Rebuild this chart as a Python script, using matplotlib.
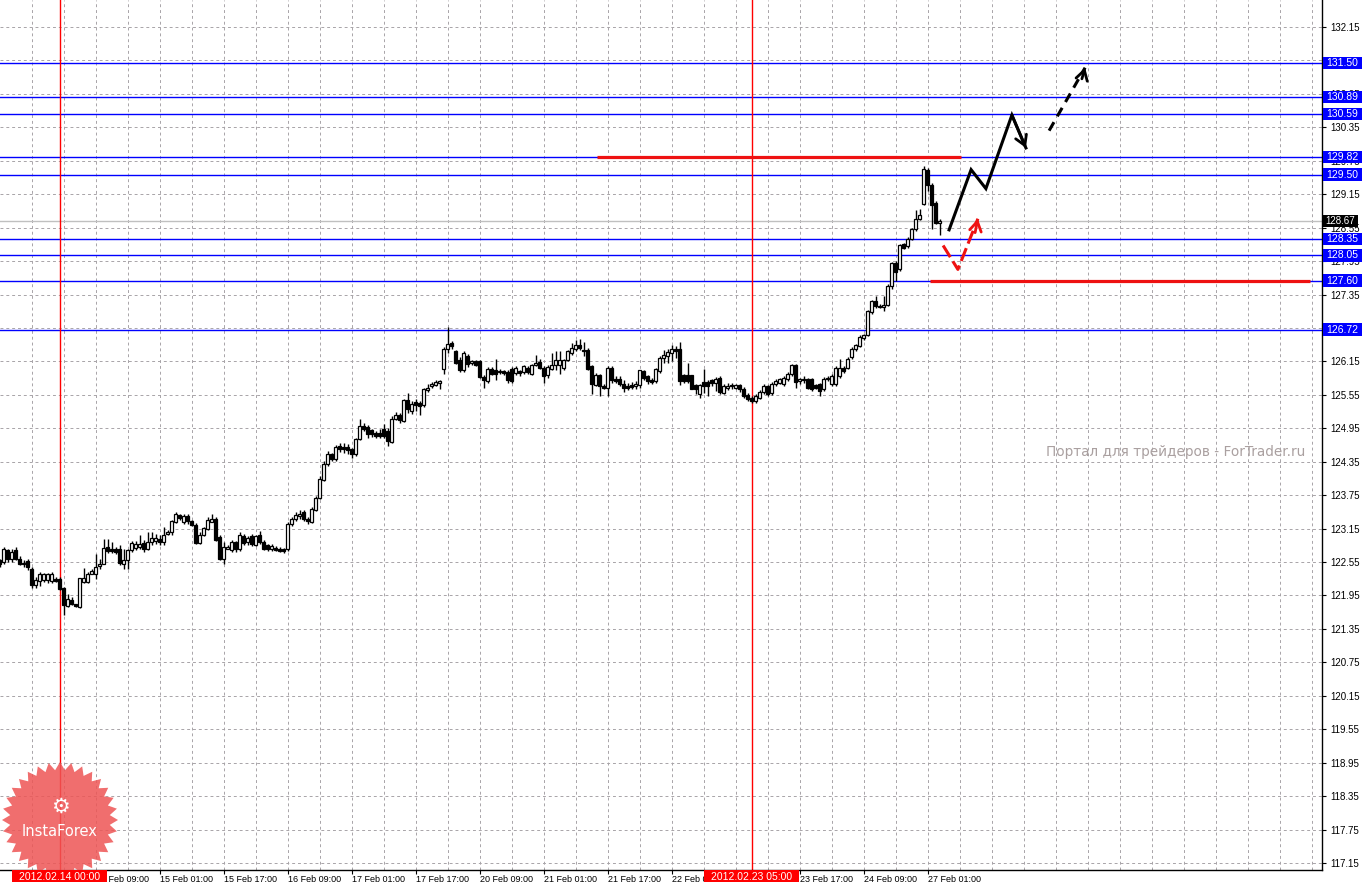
import matplotlib
matplotlib.use("Agg")
import matplotlib.pyplot as plt
import matplotlib.transforms as mtransforms
from matplotlib.patches import Rectangle, Polygon
import numpy as np

# ---- H1 candles, 13 Feb 09:00 .. 27 Feb 04:00 (bar index 0..235) ----
opens = [
    122.58, 122.55, 122.76, 122.61, 122.76, 122.61, 122.53, 122.56, 122.43, 122.13,
    122.21, 122.22, 122.22, 122.21, 122.25, 122.25, 122.09, 121.76, 121.87, 121.79,
    121.75, 122.19, 122.19, 122.34, 122.34, 122.48, 122.52, 122.82, 122.78, 122.78,
    122.79, 122.52, 122.58, 122.76, 122.80, 122.82, 122.90, 122.78, 122.91, 122.92,
    122.97, 122.91, 123.06, 123.08, 123.27, 123.39, 123.27, 123.38, 123.28, 123.22,
    122.90, 123.04, 123.14, 123.27, 123.33, 123.00, 122.61, 122.79, 122.76, 122.91,
    122.78, 123.02, 122.91, 123.01, 122.86, 123.03, 122.91, 122.85, 122.78, 122.80,
    122.79, 122.78, 122.78, 123.23, 123.32, 123.37, 123.44, 123.33, 123.27, 123.48,
    123.70, 124.02, 124.30, 124.48, 124.39, 124.63, 124.61, 124.61, 124.57, 124.48,
    124.76, 124.99, 124.98, 124.91, 124.87, 124.87, 124.93, 124.90, 124.71, 125.12,
    125.18, 125.08, 125.45, 125.26, 125.42, 125.41, 125.36, 125.64, 125.71, 125.73,
    125.76, 126.01, 126.37, 126.48, 126.33, 126.18, 125.99, 126.25, 126.12, 126.15,
    126.15, 125.87, 125.79, 126.02, 125.99, 125.96, 125.97, 125.96, 126.02, 125.94,
    125.97, 125.96, 126.03, 125.93, 126.09, 126.14, 126.03, 125.90, 126.02, 126.09,
    126.08, 126.03, 126.18, 126.30, 126.37, 126.45, 126.36, 126.36, 126.06, 125.72,
    125.90, 125.71, 125.68, 126.03, 125.84, 125.84, 125.74, 125.70, 125.72, 125.71,
    125.72, 125.97, 125.88, 125.82, 125.79, 125.97, 126.21, 126.25, 126.30, 126.37,
    126.37, 125.90, 125.90, 125.90, 125.72, 125.56, 125.78, 125.78, 125.81, 125.76,
    125.86, 125.59, 125.68, 125.72, 125.68, 125.72, 125.66, 125.55, 125.50, 125.44,
    125.50, 125.60, 125.70, 125.58, 125.74, 125.77, 125.74, 125.84, 125.92, 126.08,
    125.80, 125.83, 125.83, 125.83, 125.72, 125.74, 125.65, 125.83, 125.74, 125.74,
    125.89, 126.04, 126.04, 126.22, 126.37, 126.43, 126.57, 126.62, 127.03, 127.23,
    127.15, 127.13, 127.17, 127.50, 127.92, 127.81, 128.25, 128.22, 128.35, 128.52,
    128.71, 128.98, 129.59, 129.32, 128.99, 128.64,
]
closes = [
    122.52, 122.79, 122.61, 122.73, 122.61, 122.52, 122.51, 122.46, 122.13, 122.22,
    122.34, 122.33, 122.33, 122.34, 122.21, 122.07, 121.78, 121.88, 121.79, 121.76,
    122.26, 122.26, 122.34, 122.38, 122.46, 122.52, 122.80, 122.74, 122.74, 122.73,
    122.54, 122.58, 122.76, 122.89, 122.88, 122.88, 122.79, 122.91, 122.98, 122.98,
    122.91, 123.03, 123.09, 123.28, 123.42, 123.34, 123.38, 123.28, 123.22, 122.89,
    123.04, 123.16, 123.30, 123.33, 122.94, 122.61, 122.82, 122.82, 122.91, 122.78,
    123.03, 122.89, 122.98, 122.87, 123.01, 122.91, 122.79, 122.78, 122.84, 122.77,
    122.75, 122.75, 123.24, 123.32, 123.39, 123.42, 123.32, 123.28, 123.51, 123.70,
    124.04, 124.30, 124.48, 124.39, 124.62, 124.58, 124.57, 124.56, 124.48, 124.75,
    124.99, 124.94, 124.84, 124.84, 124.81, 124.81, 124.81, 124.72, 125.11, 125.18,
    125.10, 125.45, 125.29, 125.39, 125.36, 125.35, 125.65, 125.68, 125.75, 125.78,
    125.79, 126.37, 126.47, 126.43, 126.12, 126.00, 126.30, 126.11, 126.15, 126.09,
    125.87, 125.82, 126.02, 125.93, 125.93, 125.98, 125.94, 125.82, 125.79, 126.03,
    125.94, 126.06, 125.96, 126.08, 126.12, 126.03, 125.88, 126.05, 126.09, 126.18,
    126.17, 126.17, 126.33, 126.39, 126.45, 126.39, 126.33, 126.02, 125.74, 125.90,
    125.71, 125.68, 126.03, 125.82, 125.80, 125.74, 125.68, 125.68, 125.69, 125.75,
    125.99, 125.85, 125.79, 125.78, 126.02, 126.21, 126.27, 126.31, 126.37, 126.33,
    125.79, 125.79, 125.79, 125.66, 125.65, 125.72, 125.71, 125.71, 125.76, 125.84,
    125.60, 125.71, 125.71, 125.70, 125.72, 125.65, 125.52, 125.47, 125.44, 125.53,
    125.60, 125.71, 125.56, 125.75, 125.80, 125.83, 125.86, 125.92, 126.08, 125.78,
    125.83, 125.82, 125.68, 125.65, 125.68, 125.62, 125.84, 125.86, 125.89, 126.04,
    126.04, 125.98, 126.20, 126.37, 126.44, 126.59, 126.62, 127.05, 127.23, 127.14,
    127.13, 127.17, 127.50, 127.91, 127.75, 128.23, 128.19, 128.35, 128.52, 128.71,
    128.77, 129.60, 129.32, 128.96, 128.64, 128.67,
]
highs = [
    122.61, 122.82, 122.79, 122.78, 122.82, 122.66, 122.58, 122.61, 122.46, 122.28,
    122.37, 122.36, 122.36, 122.37, 122.28, 122.28, 122.10, 121.98, 121.92, 121.80,
    122.27, 122.45, 122.37, 122.43, 122.70, 122.61, 122.97, 122.97, 122.91, 122.82,
    122.85, 122.79, 122.79, 122.92, 122.92, 123.03, 122.94, 123.09, 123.09, 123.05,
    123.03, 123.18, 123.12, 123.30, 123.45, 123.42, 123.42, 123.42, 123.30, 123.25,
    123.09, 123.18, 123.36, 123.42, 123.36, 123.03, 122.91, 122.85, 122.94, 122.92,
    123.08, 123.05, 123.02, 123.05, 123.03, 123.10, 122.95, 122.87, 122.87, 122.84,
    122.82, 122.80, 123.26, 123.36, 123.45, 123.48, 123.48, 123.36, 123.53, 123.73,
    124.10, 124.36, 124.55, 124.51, 124.65, 124.69, 124.69, 124.66, 124.60, 124.78,
    125.11, 125.05, 125.00, 124.94, 124.90, 124.93, 125.02, 124.96, 125.17, 125.24,
    125.23, 125.47, 125.59, 125.44, 125.47, 125.44, 125.67, 125.74, 125.78, 125.82,
    125.82, 126.40, 126.77, 126.52, 126.36, 126.22, 126.33, 126.28, 126.18, 126.17,
    126.18, 125.90, 126.05, 126.05, 126.20, 126.02, 126.00, 126.00, 126.05, 126.06,
    126.00, 126.09, 126.06, 126.11, 126.27, 126.20, 126.06, 126.08, 126.30, 126.33,
    126.33, 126.20, 126.36, 126.48, 126.54, 126.55, 126.49, 126.39, 126.09, 125.94,
    125.93, 125.74, 126.06, 126.06, 125.88, 125.88, 125.82, 125.76, 125.78, 125.79,
    126.00, 125.99, 125.91, 125.85, 126.03, 126.24, 126.36, 126.37, 126.45, 126.42,
    126.49, 125.92, 126.12, 125.91, 125.74, 125.74, 126.02, 125.82, 125.84, 125.87,
    125.88, 125.74, 125.76, 125.76, 125.75, 125.75, 125.69, 125.58, 125.53, 125.56,
    125.63, 125.74, 125.73, 125.78, 125.84, 125.86, 125.89, 125.96, 126.11, 126.10,
    125.86, 125.88, 125.86, 125.86, 125.75, 125.77, 125.87, 125.89, 125.92, 126.06,
    126.19, 126.07, 126.23, 126.40, 126.47, 126.62, 126.65, 127.08, 127.26, 127.33,
    127.18, 127.33, 127.53, 127.94, 127.95, 128.26, 128.28, 128.38, 128.55, 128.87,
    128.89, 129.66, 129.62, 129.35, 129.02, 128.71,
]
lows = [
    122.46, 122.52, 122.55, 122.55, 122.58, 122.49, 122.46, 122.40, 122.08, 122.08,
    122.12, 122.19, 122.18, 122.18, 122.19, 122.05, 121.60, 121.74, 121.77, 121.75,
    121.72, 122.18, 122.17, 122.33, 122.25, 122.43, 122.52, 122.72, 122.72, 122.70,
    122.49, 122.42, 122.42, 122.73, 122.76, 122.79, 122.73, 122.76, 122.85, 122.88,
    122.85, 122.85, 123.03, 123.03, 123.25, 123.30, 123.24, 123.24, 123.20, 122.87,
    122.88, 123.02, 123.12, 123.26, 122.92, 122.58, 122.52, 122.78, 122.73, 122.73,
    122.74, 122.86, 122.86, 122.84, 122.83, 122.88, 122.76, 122.74, 122.75, 122.74,
    122.73, 122.72, 122.75, 123.20, 123.28, 123.32, 123.28, 123.24, 123.25, 123.46,
    123.68, 124.00, 124.27, 124.36, 124.36, 124.52, 124.50, 124.48, 124.42, 124.45,
    124.74, 124.90, 124.78, 124.80, 124.78, 124.78, 124.78, 124.63, 124.69, 125.10,
    125.05, 125.06, 125.23, 125.20, 125.26, 125.18, 125.34, 125.60, 125.68, 125.71,
    125.65, 125.92, 126.30, 126.38, 126.10, 125.96, 125.96, 126.05, 126.08, 126.06,
    125.85, 125.68, 125.76, 125.90, 125.82, 125.92, 125.90, 125.76, 125.76, 125.90,
    125.88, 125.93, 125.93, 125.90, 126.06, 126.02, 125.76, 125.85, 125.99, 126.00,
    125.93, 126.00, 126.15, 126.27, 126.33, 126.36, 126.25, 126.00, 125.56, 125.70,
    125.53, 125.65, 125.53, 125.76, 125.76, 125.71, 125.60, 125.63, 125.65, 125.65,
    125.68, 125.82, 125.74, 125.74, 125.76, 125.94, 126.12, 126.12, 126.15, 126.21,
    125.73, 125.76, 125.76, 125.65, 125.56, 125.50, 125.59, 125.53, 125.71, 125.62,
    125.57, 125.56, 125.63, 125.66, 125.65, 125.60, 125.49, 125.44, 125.40, 125.40,
    125.47, 125.57, 125.53, 125.55, 125.70, 125.74, 125.71, 125.80, 125.89, 125.68,
    125.74, 125.77, 125.65, 125.62, 125.65, 125.52, 125.62, 125.80, 125.71, 125.71,
    125.86, 125.95, 126.01, 126.19, 126.33, 126.40, 126.54, 126.60, 127.00, 127.11,
    127.10, 127.05, 127.14, 127.45, 127.60, 127.78, 128.16, 128.19, 128.32, 128.49,
    128.69, 128.96, 129.20, 128.53, 128.61, 128.41,
]

# time axis labels (bar index of each label); the ones at bars 8 and 184
# sit completely under the red labels of the vertical lines
time_ticks = [-8, 8, 24, 40, 56, 72, 88, 104, 120, 136, 152, 168, 184, 200, 216, 232]
time_labels = ["13 Feb 01:00", "", "14 Feb 09:00", "15 Feb 01:00",
               "15 Feb 17:00", "16 Feb 09:00", "17 Feb 01:00", "17 Feb 17:00",
               "20 Feb 09:00", "21 Feb 01:00", "21 Feb 17:00", "22 Feb 09:00",
               "", "23 Feb 17:00", "24 Feb 09:00", "27 Feb 01:00"]

price_ticks = [132.15, 131.55, 130.95, 130.35, 129.75, 129.15, 128.55, 127.95,
               127.35, 126.75, 126.15, 125.55, 124.95, 124.35, 123.75, 123.15,
               122.55, 121.95, 121.35, 120.75, 120.15, 119.55, 118.95, 118.35,
               117.75, 117.15]
# scale labels that sit fully under a level box
hidden_ticks = [131.55, 126.75]

levels = [131.50, 130.89, 130.59, 129.82, 129.50, 128.35, 128.05, 127.60, 126.72]
current_price = 128.67

vline_bars = [15, 188]
vline_labels = ["2012.02.14 00:00", "2012.02.23 05:00"]

# red target lines: (price, start bar, end bar)
red_lines = [(129.82, 149.4, 240.4), (127.60, 232.6, 327.6)]

# forecast paths (bar, price)
black_path_x = [237.4, 242.9, 246.6, 253.1, 256.6]
black_path_y = [128.51, 129.59, 129.25, 130.57, 129.98]
black_dash_x = [262.4, 271.4]
black_dash_y = [130.29, 131.42]
red_path_x = [235.9, 239.6, 244.6]
red_path_y = [128.23, 127.80, 128.71]

FONT = "Liberation Sans"
W, H = 1365, 882
AX_R, AX_B = 1322, 870

fig = plt.figure(figsize=(W / 100, H / 100), dpi=100)
fig.patch.set_facecolor("white")
ax = fig.add_axes([0, (H - AX_B) / H, AX_R / W, AX_B / H])
ov = fig.add_axes([0, 0, 1, 1], zorder=5)
ov.set_xlim(0, W)
ov.set_ylim(H, 0)
ov.axis("off")
ov.patch.set_alpha(0)

p_per_px = 1 / 55.73

# grid
grid_kw = dict(color="#a8a4a8", lw=0.7, linestyle=(0, (3, 3)), zorder=0)
for gx in range(8, 331, 8):
    ax.axvline(gx, **grid_kw)
for gy in price_ticks:
    ax.axhline(gy, **grid_kw)

# watermark
ov.text(1305, 452, "Портал для трейдеров - ForTrader.ru", ha="right", va="center",
        fontsize=9.8, color="#aaa0a0", family="DejaVu Sans", zorder=0)

# candles
idx = np.arange(len(closes))
o = np.array(opens)
c = np.array(closes)
ax.vlines(idx, lows, highs, color="black", lw=1.0, zorder=3)
body_col = ["white" if cc >= oo else "black" for oo, cc in zip(o, c)]
ax.bar(idx, np.abs(c - o), bottom=np.minimum(o, c), width=0.55, color=body_col,
       edgecolor="black", linewidth=0.9, zorder=4)

# horizontal levels
ax.axhline(current_price, color="#c0c0c0", lw=1, zorder=2)
for lv in levels:
    ax.axhline(lv, color="#0000ff", lw=1, zorder=2)
for pr, x0, x1 in red_lines:
    ax.plot([x0, x1], [pr, pr], color="#ee1111", lw=2.3, solid_capstyle="butt", zorder=5)

# vertical lines
for vb in vline_bars:
    ax.axvline(vb, color="#ff0000", lw=1, zorder=2)

# forecast arrows
ax.plot(black_path_x, black_path_y, color="black", lw=2.2,
        solid_joinstyle="miter", zorder=6)
ax.annotate("", xy=(black_path_x[-1], black_path_y[-1]),
            xytext=(black_path_x[-2], black_path_y[-2]),
            arrowprops=dict(arrowstyle="->,head_length=0.5,head_width=0.3", color="black",
                            lw=2.0, shrinkA=0, shrinkB=0, mutation_scale=14), zorder=6)
ax.plot(black_dash_x, black_dash_y, color="black", lw=2.2, dashes=(3.2, 2.2), zorder=6)
ax.annotate("", xy=(black_dash_x[-1], black_dash_y[-1]),
            xytext=(black_dash_x[-1] - 0.8, black_dash_y[-1] - 0.2),
            arrowprops=dict(arrowstyle="->,head_length=0.5,head_width=0.3", color="black",
                            lw=2.0, shrinkA=0, shrinkB=0, mutation_scale=14), zorder=6)
ax.plot(red_path_x, red_path_y, color="#ee1111", lw=2.2, dashes=(4.5, 1.6), zorder=6)
ax.annotate("", xy=(red_path_x[-1], red_path_y[-1]),
            xytext=(red_path_x[-1] - 0.7, red_path_y[-1] - 0.25),
            arrowprops=dict(arrowstyle="->,head_length=0.5,head_width=0.3", color="#ee1111",
                            lw=2.0, shrinkA=0, shrinkB=0, mutation_scale=14), zorder=6)

# axes frame and ticks
for s in ["top", "left"]:
    ax.spines[s].set_visible(False)
for s in ["right", "bottom"]:
    ax.spines[s].set_color("black")
    ax.spines[s].set_linewidth(1)
ax.yaxis.tick_right()
ax.set_yticks(price_ticks)
ax.set_yticklabels(["" if p in hidden_ticks else f"{p:.2f}" for p in price_ticks],
                   family=FONT)
ax.tick_params(axis="y", direction="out", length=3, width=0.8, pad=3, labelsize=7)
ax.set_xticks(time_ticks)
ax.set_xticklabels(time_labels, family=FONT, ha="left")
ax.tick_params(axis="x", direction="out", length=3, width=0.8, pad=0.5, labelsize=6.5)
for lab in ax.get_xticklabels():
    lab.set_clip_on(False)

# limits set after the ticks so they are not widened
ax.set_xlim((0 + 0.5) / 4, (AX_R + 0.5) / 4)
ax.set_ylim(132.15 - (AX_B - 27) * p_per_px, 132.15 + 27 * p_per_px)

# price label boxes on the right scale
box_tr = mtransforms.blended_transform_factory(ov.transData, ax.transData)
bh = 12.5 * p_per_px
for lv in levels:
    ov.add_patch(Rectangle((1323, lv - bh / 2), 39, bh, transform=box_tr,
                           facecolor="#0000ff", edgecolor="none", zorder=7, clip_on=False))
    ov.text(1342.5, lv, f"{lv:.2f}", transform=box_tr, ha="center", va="center",
            color="white", fontsize=7.5, family=FONT, zorder=8)
ov.add_patch(Rectangle((1323, current_price - bh / 2), 35, bh, transform=box_tr,
                       facecolor="black", edgecolor="none", zorder=7, clip_on=False))
ov.text(1340.5, current_price, f"{current_price:.2f}", transform=box_tr, ha="center",
        va="center", color="white", fontsize=7, family=FONT, zorder=8)

# InstaForex badge
cx, cy, n_sp = 60, 820, 32
ang = np.linspace(0, 2 * np.pi, 2 * n_sp, endpoint=False)
rad = np.where(np.arange(2 * n_sp) % 2 == 0, 58, 50)
star = Polygon(np.column_stack([cx + rad * np.cos(ang), cy + rad * np.sin(ang)]),
               closed=True, facecolor="#ee5555", edgecolor="none", alpha=0.85, zorder=3)
ov.add_patch(star)
ov.text(cx, 807, "\u2699", ha="center", va="center", color="white", fontsize=15,
        family="DejaVu Sans", zorder=4)
ov.text(cx, 832, "InstaForex", ha="center", va="center", color="white", fontsize=10.5,
        family="DejaVu Sans", zorder=4)

# red time labels of the vertical lines
lab_tr = mtransforms.blended_transform_factory(ax.transData, ov.transData)
for vb, txt in zip(vline_bars, vline_labels):
    ov.add_patch(Rectangle((vb - 11.8, 870), 23.6, 12, transform=lab_tr,
                           facecolor="#ff0000", edgecolor="none", zorder=7, clip_on=False))
    ov.text(vb, 876.5, txt, transform=lab_tr, ha="center", va="center", color="white",
            fontsize=7.5, family=FONT, zorder=8)

fig.savefig("out.png", dpi=100, facecolor="white")
